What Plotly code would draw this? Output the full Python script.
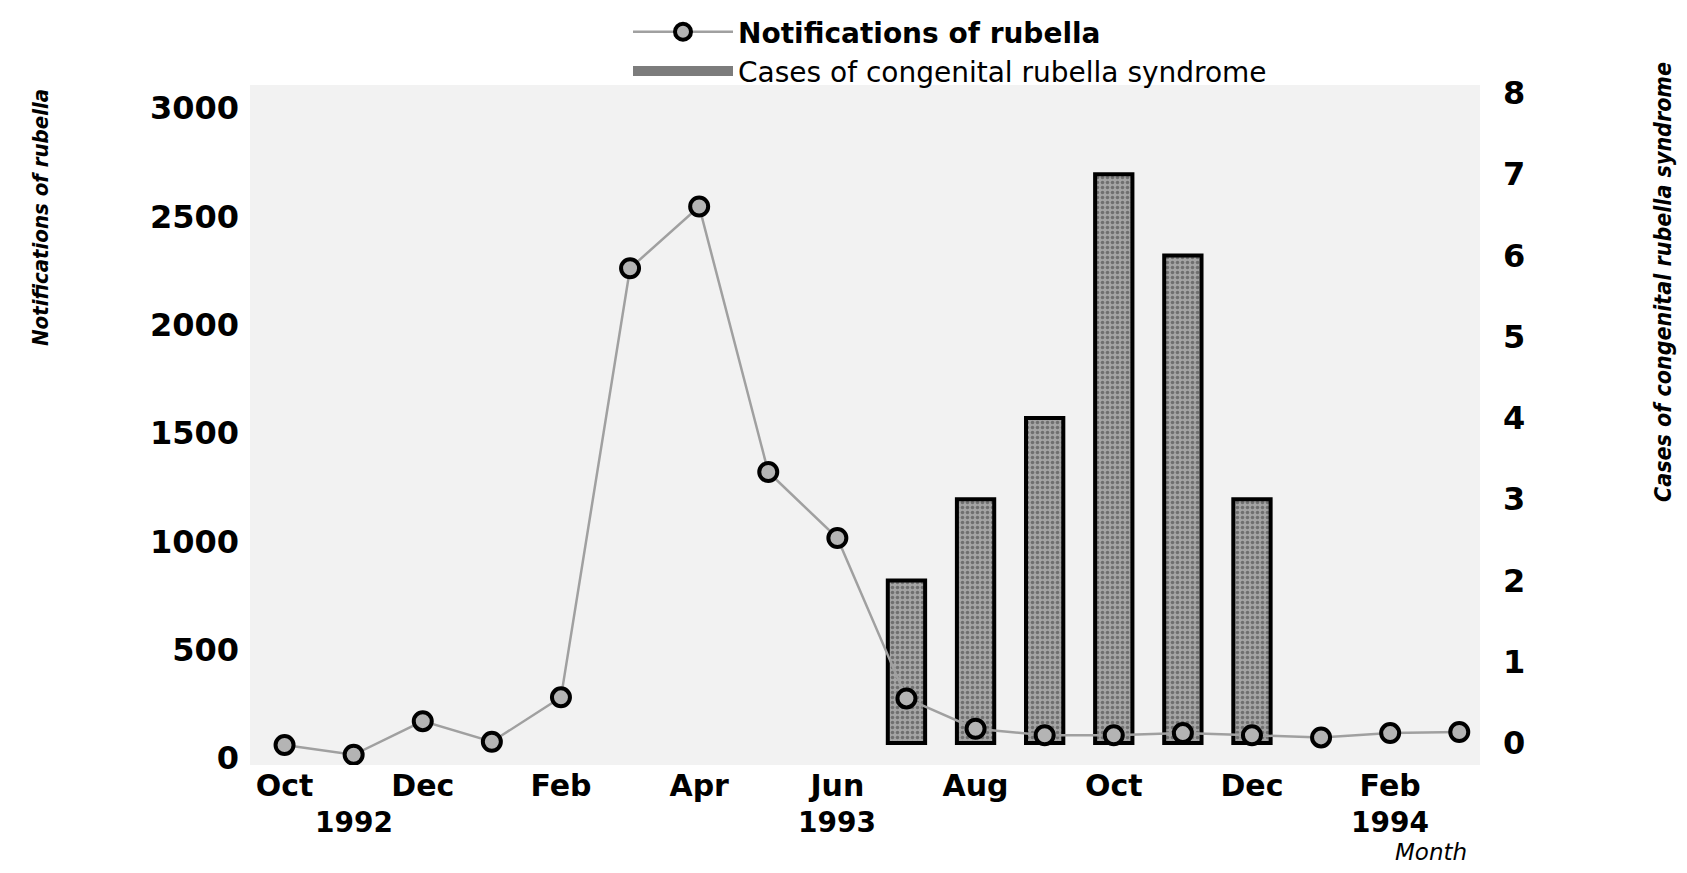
import plotly.graph_objects as go

# ---- data ----
months = ["1992-10", "1992-11", "1992-12", "1993-01", "1993-02", "1993-03",
          "1993-04", "1993-05", "1993-06", "1993-07", "1993-08", "1993-09",
          "1993-10", "1993-11", "1993-12", "1994-01", "1994-02", "1994-03"]
notifications = [60, 15, 170, 75, 280, 2260, 2545, 1320, 1015, 275,
                 135, 105, 105, 115, 105, 95, 115, 120]
crs_months = ["1993-07", "1993-08", "1993-09", "1993-10", "1993-11", "1993-12"]
crs_cases = [2, 3, 4, 7, 6, 3]

tick_months = ["1992-10", "1992-12", "1993-02", "1993-04", "1993-06",
               "1993-08", "1993-10", "1993-12", "1994-02"]
tick_text = ["Oct", "Dec", "Feb", "Apr", "Jun", "Aug", "Oct", "Dec", "Feb"]
year_months = ["1992-11", "1993-06", "1994-02"]
year_text = ["1992", "1993", "1994"]

left_ticks = [0, 500, 1000, 1500, 2000, 2500, 3000]
right_ticks = [0, 1, 2, 3, 4, 5, 6, 7, 8]

# page is 1687x873; the html body has an 8px margin
OFF = 8
FW, FH = 1687 - 2 * OFF, 873 - 2 * OFF
# plot area in page pixels
L, R, T, B = 250, 1480, 85, 765

def py(y):  # page pixel y -> paper y
    return (B - y) / (B - T)

def px(x):  # page pixel x -> paper x
    return (x - L) / (R - L)

BOLD = "DejaVu Sans"
NARROW = "Liberation Sans Narrow, DejaVu Sans Condensed, Liberation Sans, sans-serif"

fig = go.Figure()

fig.add_trace(go.Scatter(
    x=months, y=notifications, yaxis="y2",
    mode="lines+markers",
    name="<b>Notifications of rubella</b>",
    line=dict(color="#a0a0a0", width=2.5),
    marker=dict(size=18, color="#b4b4b4", line=dict(color="black", width=4)),
))

fig.add_trace(go.Bar(
    x=crs_months, y=crs_cases, yaxis="y",
    name="Cases of congenital rubella syndrome",
    showlegend=False,
    width=0.54,
    marker=dict(
        color="#8e8e8e",
        line=dict(color="black", width=4),
        pattern=dict(shape=".", fgcolor="#3a3a3a", bgcolor="#a4a4a4",
                     size=5, solidity=0.4),
    ),
))

# legend key for the bars (a wide grey box, as in the original key)
fig.add_trace(go.Scatter(
    x=[None], y=[None], yaxis="y", mode="lines",
    name="Cases of congenital rubella syndrome",
    line=dict(color="#7c7c7c", width=20),
))

fig.update_layout(
    width=FW, height=FH,
    paper_bgcolor="white",
    plot_bgcolor="#f2f2f2",
    margin=dict(l=L - OFF, r=FW - (R - OFF), t=T - OFF, b=FH - (B - OFF),
                pad=0, autoexpand=False),
    showlegend=True,
    legend=dict(
        x=px(628), y=py(7), xanchor="left", yanchor="top",
        orientation="v", itemwidth=100,
        font=dict(family=BOLD, size=28, color="black"),
        bgcolor="rgba(0,0,0,0)", tracegroupgap=0,
    ),
    xaxis=dict(
        type="category", categoryorder="array", categoryarray=months,
        range=[-0.5, 17.3],
        tickmode="array", tickvals=tick_months, ticktext=tick_text,
        showgrid=False, zeroline=False, showline=False, ticks="",
        tickfont=dict(family=BOLD, size=30, color="black", weight="bold"),
        ticklabelstandoff=0,
    ),
    yaxis=dict(
        side="right", range=[-0.271, 8.098],
        tickmode="array", tickvals=right_ticks,
        showgrid=False, zeroline=False, showline=False, ticks="",
        tickfont=dict(family=BOLD, size=32, color="black", weight="bold"),
        ticklabelstandoff=22,
    ),
    yaxis2=dict(
        side="left", overlaying="y", range=[-32.3, 3106],
        tickmode="array", tickvals=left_ticks,
        showgrid=False, zeroline=False, showline=False, ticks="",
        tickfont=dict(family=BOLD, size=32, color="black", weight="bold"),
        ticklabelstandoff=10,
    ),
)

# year labels under the month ticks
for m, t in zip(year_months, year_text):
    fig.add_annotation(x=m, y=py(822), xref="x", yref="paper",
                       xanchor="center", yanchor="middle",
                       text=t, showarrow=False,
                       font=dict(family=BOLD, size=28, color="black", weight="bold"))

# axis titles
fig.add_annotation(x=px(41), y=py(218), xref="paper", yref="paper",
                   xanchor="center", yanchor="middle",
                   text="<i>Notifications of rubella</i>", textangle=-90, showarrow=False,
                   font=dict(family=NARROW, size=22, color="black", weight="bold"))
fig.add_annotation(x=px(1663), y=py(282), xref="paper", yref="paper",
                   xanchor="center", yanchor="middle",
                   text="<i>Cases of congenital rubella syndrome</i>", textangle=-90, showarrow=False,
                   font=dict(family=NARROW, size=23, color="black", weight="bold"))
fig.add_annotation(x=px(1431), y=py(852), xref="paper", yref="paper",
                   xanchor="center", yanchor="middle",
                   text="<i>Month</i>", showarrow=False,
                   font=dict(family="DejaVu Sans", size=23, color="black"))

fig.write_html("out.html")
